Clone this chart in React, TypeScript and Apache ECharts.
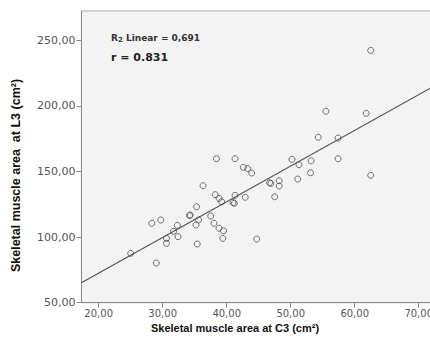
import React, { useEffect, useRef } from "react";
import * as echarts from "echarts";

const xValues = [
  25.0, 29.0, 28.3, 29.7, 30.6, 30.6, 31.7, 32.3, 32.4, 34.2, 34.3, 35.3, 35.6,
  35.2, 35.4, 36.3, 37.5, 38.0, 38.2, 38.8, 39.2, 38.8, 39.5, 39.4, 38.4, 41.3,
  42.6, 43.3, 43.9, 41.3, 41.2, 41.0, 42.9, 44.7, 46.9, 46.7, 48.2, 48.2, 47.5,
  50.2, 51.3, 51.1, 53.2, 53.1, 54.3, 57.4, 57.4, 55.5, 61.8, 62.5, 62.5,
];
const yValues = [
  87.6, 80.2, 110.5, 113.0, 99.0, 95.2, 104.4, 108.9, 100.3, 116.4, 116.8,
  123.1, 113.0, 109.2, 94.7, 139.1, 116.0, 110.5, 132.3, 129.5, 126.9, 106.7,
  104.8, 99.0, 159.7, 159.7, 153.1, 152.1, 148.8, 131.8, 125.7, 126.3, 130.3,
  98.5, 140.9, 141.4, 142.9, 138.9, 130.7, 159.2, 155.1, 144.2, 158.1, 149.0,
  176.0, 175.4, 159.7, 195.8, 194.2, 242.2, 147.0,
];
const xTicks = [20, 30, 40, 50, 60, 70];
const yTicks = [50, 100, 150, 200, 250];
const fitIntercept = 18.16;
const fitSlope = 2.719;
const r2Text = "0,691";
const rText = "0.831";
const xTitle = "Skeletal muscle area at C3 (cm²)";
const yTitle = "Skeletal muscle area  at L3 (cm²)";

const X_MIN = 17.3;
const X_MAX = 75;
const Y_MIN = 50;
const Y_MAX = 272.2;

const fmt = (v: number) => v.toFixed(2).replace(".", ",");

export default function App() {
  const ref = useRef<HTMLDivElement>(null);
  useEffect(() => {
    if (!ref.current) return;
    const chart = echarts.init(ref.current, undefined, { renderer: "svg" });
    const points = xValues.map((x, i) => [x, yValues[i]]);
    const fitLine = [
      [X_MIN, fitIntercept + fitSlope * X_MIN],
      [X_MAX, fitIntercept + fitSlope * X_MAX],
    ];
    chart.setOption({
      animation: false,
      backgroundColor: "#ffffff",
      grid: {
        left: 81.4,
        top: 11,
        width: 369.3,
        bottom: 38.3,
        show: true,
        backgroundColor: "#f3f3f3",
        borderColor: "#a8a8a8",
        borderWidth: 1,
      },
      xAxis: {
        type: "value",
        min: X_MIN,
        max: X_MAX,
        splitLine: { show: false },
        axisLine: { show: true, lineStyle: { color: "#8a8a8a", width: 1 } },
        axisTick: {
          show: true,
          length: 5,
          customValues: xTicks,
          lineStyle: { color: "#8a8a8a" },
        },
        axisLabel: {
          customValues: xTicks,
          formatter: (v: number) => fmt(v),
          color: "#555",
          fontFamily: "DejaVu Sans",
          fontSize: 10,
          margin: 6,
        },
      },
      yAxis: {
        type: "value",
        min: Y_MIN,
        max: Y_MAX,
        splitLine: { show: false },
        axisLine: { show: true, lineStyle: { color: "#8a8a8a", width: 1 } },
        axisTick: {
          show: true,
          length: 5,
          customValues: yTicks,
          lineStyle: { color: "#8a8a8a" },
        },
        axisLabel: {
          customValues: yTicks,
          formatter: (v: number) => fmt(v),
          color: "#555",
          fontFamily: "DejaVu Sans",
          fontSize: 11,
          margin: 6,
        },
      },
      series: [
        {
          type: "line",
          data: fitLine,
          symbol: "none",
          lineStyle: { color: "#555", width: 1.2 },
          silent: true,
          z: 1,
        },
        {
          type: "scatter",
          data: points,
          symbol: "circle",
          symbolSize: 6,
          itemStyle: {
            color: "rgba(0,0,0,0)",
            borderColor: "#4d4d4d",
            borderWidth: 1,
          },
          z: 2,
        },
      ],
      graphic: [
        {
          type: "text",
          x: 111,
          y: 38,
          style: {
            text: "{a|R}{b|2}{a| Linear = " + r2Text + "}",
            verticalAlign: "middle",
            rich: {
              a: {
                fontFamily: "DejaVu Sans",
                fontWeight: "bold",
                fontSize: 9,
                fill: "#333",
              },
              b: {
                fontFamily: "DejaVu Sans",
                fontWeight: "bold",
                fontSize: 7,
                fill: "#333",
                padding: [4, 0, 0, 0],
              },
            },
          },
        },
        {
          type: "text",
          x: 111,
          y: 57,
          style: {
            text: "r = " + rText,
            verticalAlign: "middle",
            fontFamily: "DejaVu Sans",
            fontWeight: "bold",
            fontSize: 11,
            fill: "#222",
          },
        },
        {
          type: "text",
          x: 235,
          y: 328,
          style: {
            text: xTitle,
            align: "center",
            verticalAlign: "middle",
            fontFamily: "Liberation Sans",
            fontWeight: "bold",
            fontSize: 11,
            fill: "#111",
          },
        },
        {
          type: "text",
          x: 16,
          y: 175.5,
          rotation: Math.PI / 2,
          style: {
            text: yTitle,
            align: "center",
            verticalAlign: "middle",
            fontFamily: "Liberation Sans",
            fontWeight: "bold",
            fontSize: 12.5,
            fill: "#111",
          },
        },
      ],
    });
    return () => chart.dispose();
  }, []);
  return (
    <div
      style={{
        position: "fixed",
        left: 0,
        top: 0,
        width: 430,
        height: 341,
        overflow: "hidden",
        background: "#fff",
      }}
    >
      <div ref={ref} style={{ width: 470, height: 341 }} />
    </div>
  );
}
